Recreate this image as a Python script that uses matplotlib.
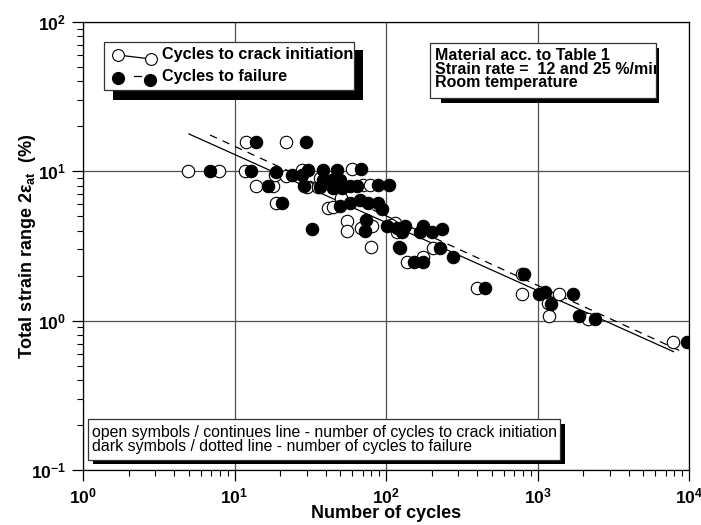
import matplotlib
matplotlib.use('Agg')
import matplotlib.pyplot as plt
import matplotlib.ticker as mtick
from matplotlib.patches import Rectangle
from matplotlib.lines import Line2D
import numpy as np

plt.rcParams['font.family'] = 'Liberation Sans'
plt.rcParams['mathtext.fontset'] = 'custom'
plt.rcParams['mathtext.rm'] = 'Liberation Sans'
plt.rcParams['mathtext.bf'] = 'Liberation Sans:bold'
plt.rcParams['mathtext.it'] = 'Liberation Sans:italic'

W, H = 701, 525

# open symbols - cycles to crack initiation
init_cycles = [4.9, 7.9, 11.9, 21.8, 11.7, 13.9, 18.0, 18.8, 18.5, 21.8,
               27.8, 30.0, 35.4, 41.6, 44.5, 50.5, 55.0, 55.0, 59.4, 70.2,
               68.4, 80.5, 79.2, 78.4, 115, 108, 118, 137, 176, 203,
               397, 787, 787, 1178, 1191, 1387, 2163, 7877, 46.8, 36.7]
init_strain = [10.0, 10.0, 15.8, 15.8, 10.0, 8.0, 8.0, 6.17, 9.45, 9.3,
               10.2, 7.8, 7.8, 5.7, 5.8, 6.6, 4.67, 3.98, 10.3, 8.1,
               4.19, 4.3, 3.13, 8.1, 4.5, 4.35, 3.94, 2.48, 2.68, 3.05,
               1.66, 2.05, 1.50, 1.31, 1.07, 1.52, 1.03, 0.716, 8.75, 9.0]

# dark symbols - cycles to failure
fail_cycles = [6.9, 13.9, 29.6, 12.8, 16.7, 20.7, 32.6, 18.8, 23.9, 27.8,
               30.7, 28.8, 36.7, 38.6, 47.3, 38.6, 43.8, 49.7, 44.9, 51.0,
               57.9, 64.1, 68.1, 89, 105, 49.7, 57.9, 67.4, 76.4, 89,
               93.7, 73.8, 72.7, 101, 118, 121, 133, 127, 176, 168,
               200, 233, 124, 227, 278, 153, 176, 450, 815, 1028,
               1121, 1222, 1722, 1888, 2397, 9660]
fail_strain = [10.0, 15.8, 15.8, 10.0, 8.0, 6.17, 4.09, 9.94, 9.45, 9.45,
               10.2, 8.0, 7.8, 10.2, 10.2, 8.75, 8.75, 8.75, 7.7, 7.7,
               8.0, 8.0, 10.3, 8.1, 8.1, 5.86, 6.17, 6.42, 6.17, 6.17,
               5.56, 4.72, 3.98, 4.3, 4.15, 3.13, 4.3, 3.94, 4.3, 3.94,
               3.94, 4.09, 3.05, 3.05, 2.65, 2.48, 2.48, 1.66, 2.05, 1.52,
               1.56, 1.29, 1.52, 1.07, 1.03, 0.716]

# fitted lines (end points)
init_fit_cycles = [5.0, 7900]
init_fit_strain = [17.8, 0.62]
fail_fit_cycles = [6.9, 9400]
fail_fit_strain = [17.5, 0.607]


def px(x, y):
    """pixel (from top-left) -> figure fraction"""
    return x / W, 1 - y / H


fig = plt.figure(figsize=(W / 100, H / 100), dpi=100)
ax = fig.add_axes([83 / W, 1 - 470 / H, 606 / W, 448 / H])
ax.set_xscale('log')
ax.set_yscale('log')
ax.set_xlim(1, 1e4)
ax.set_ylim(0.1, 100)

ax.grid(True, which='major', color='#505050', lw=0.9)
ax.set_axisbelow(True)

ax.plot(init_fit_cycles, init_fit_strain, 'k-', lw=0.9, zorder=2)
ax.plot(fail_fit_cycles, fail_fit_strain, color='k', ls=(0, (6, 5)), lw=0.9, zorder=2)
ax.scatter(init_cycles, init_strain, s=80, facecolors='white', edgecolors='k',
           linewidths=0.8, zorder=3)
ax.scatter(fail_cycles, fail_strain, s=80, facecolors='k', edgecolors='k',
           linewidths=0.8, zorder=4)

fmt = mtick.FuncFormatter(lambda v, _: r'$\mathbf{10^{%d}}$' % round(np.log10(v)))
ax.xaxis.set_major_formatter(fmt)
ax.yaxis.set_major_formatter(fmt)
ax.xaxis.set_minor_formatter(mtick.NullFormatter())
ax.yaxis.set_minor_formatter(mtick.NullFormatter())
ax.tick_params(which='major', direction='out', length=8, width=0.9, labelsize=12.6, pad=4)
ax.tick_params(which='minor', direction='out', length=4, width=0.8)
for s in ax.spines.values():
    s.set_linewidth(0.9)

ax.set_xlabel('Number of cycles', fontsize=13, fontweight='bold', labelpad=-1)
ax.set_ylabel(r'Total strain range 2ε$_{\mathbf{at}}$  (%)', fontsize=13,
              fontweight='bold', labelpad=-5)


def box(x0, y0, x1, y1, sh):
    sx0, sy0, sx1, sy1 = sh
    fx, fy = px(sx0, sy1)
    fig.add_artist(Rectangle((fx, fy), (sx1 - sx0) / W, (sy1 - sy0) / H,
                             transform=fig.transFigure, facecolor='k',
                             edgecolor='none', zorder=5))
    fx, fy = px(x0, y1)
    r = Rectangle((fx, fy), (x1 - x0) / W, (y1 - y0) / H,
                  transform=fig.transFigure, facecolor='white',
                  edgecolor='#333333', lw=0.9, zorder=6)
    fig.add_artist(r)
    return r


# legend box
box(104, 42, 354, 90, (113, 50, 363, 100))
fig.add_artist(Line2D([118 / W, 151 / W], [1 - 55 / H, 1 - 59 / H], color='k', lw=0.9,
                      transform=fig.transFigure, zorder=7))
fig.add_artist(Line2D([118 / W, 151 / W], [1 - 55 / H, 1 - 59 / H], ls='none',
                      marker='o', ms=8.5, mfc='white', mec='k', mew=0.8,
                      transform=fig.transFigure, zorder=8))
fig.add_artist(Line2D([134 / W, 141 / W], [1 - 76 / H, 1 - 76 / H], color='k', lw=0.9,
                      transform=fig.transFigure, zorder=7))
fig.add_artist(Line2D([118 / W, 150 / W], [1 - 77.5 / H, 1 - 79.5 / H], ls='none',
                      marker='o', ms=8.5, mfc='k', mec='k',
                      transform=fig.transFigure, zorder=8))
fig.text(*px(162, 59), 'Cycles to crack initiation', fontsize=11.7, fontweight='bold',
         va='baseline', zorder=8)
fig.text(*px(162, 81.5), 'Cycles to failure', fontsize=11.7, fontweight='bold',
         va='baseline', zorder=8)

# material box (last line of text is cut by the box edge, as in the original)
r2 = box(430, 43, 656, 98, (441, 48, 659, 103))
for yy, t in zip([60, 73.5, 87], ['Material acc. to Table 1',
                                  'Strain rate =  12 and 25 %/min',
                                  'Room temperature']):
    tx = fig.text(*px(435, yy), t, fontsize=11.5, fontweight='bold', va='baseline', zorder=8)
    tx.set_clip_path(r2)

# note box
box(88, 419, 560, 460, (93, 424, 565, 464))
fig.text(*px(92, 437), 'open symbols / continues line - number of cycles to crack initiation',
         fontsize=11.4, va='baseline', zorder=8)
fig.text(*px(92, 450.5), 'dark symbols / dotted line - number of cycles to failure',
         fontsize=11.4, va='baseline', zorder=8)

fig.savefig('out.png', dpi=100)
